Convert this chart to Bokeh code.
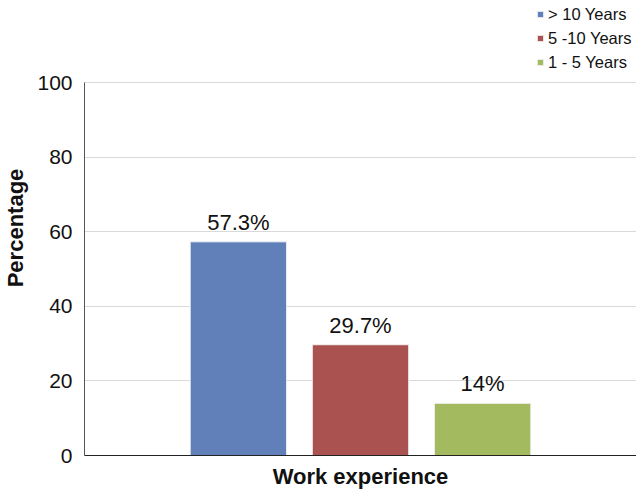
from bokeh.plotting import figure
from bokeh.models import ColumnDataSource, FactorRange, Range1d, LabelSet, Legend, LegendItem, FixedTicker
from bokeh.core.properties import value
from bokeh.embed import file_html
from bokeh.resources import INLINE

categories = ["> 10 Years", "5 -10 Years", "1 - 5 Years"]
values = [57.3, 29.7, 14.0]
bar_labels = ["57.3%", "29.7%", "14%"]
colors = ["#6180BA", "#AA5250", "#A3BB5E"]
y_ticks = [0, 20, 40, 60, 80, 100]
y_max = 100

FONT = "Liberation Sans"

src = ColumnDataSource(dict(cat=categories, val=values, lab=bar_labels, col=colors))

p = figure(width=636, height=491, output_backend="svg", toolbar_location=None,
           x_range=FactorRange(factors=categories, range_padding=0.507),
           y_range=Range1d(0, 122.0),
           min_border_left=83, min_border_right=0, min_border_top=0, min_border_bottom=36)
p.outline_line_color = None

r = p.vbar(x="cat", top="val", width=0.79, fill_color="col", line_color="#F4F4F4",
           line_width=1, source=src)

labels = LabelSet(x="cat", y="val", text="lab", source=src, y_offset=7,
                  text_align="center", text_baseline="bottom",
                  text_font=value(FONT), text_font_size="22px", text_color="#111111")
p.add_layout(labels)

# axes
p.yaxis.ticker = y_ticks
p.yaxis.bounds = (0, y_max)
p.yaxis.axis_label = "Percentage"
p.yaxis.axis_label_text_font = FONT
p.yaxis.axis_label_text_font_style = "bold"
p.yaxis.axis_label_text_font_size = "22px"
p.yaxis.axis_label_text_color = "#111111"
p.yaxis.axis_label_standoff = 6
p.yaxis.major_label_text_font = FONT
p.yaxis.major_label_text_font_size = "21px"
p.yaxis.major_label_text_color = "#111111"
p.yaxis.major_label_standoff = 12
p.yaxis.major_tick_line_color = None
p.yaxis.minor_tick_line_color = None
p.yaxis.major_tick_out = 0
p.yaxis.axis_line_color = "#555555"

p.xaxis.ticker = FixedTicker(ticks=[])
p.xaxis.axis_label = "Work experience"
p.xaxis.axis_label_text_font = FONT
p.xaxis.axis_label_text_font_style = "bold"
p.xaxis.axis_label_text_font_size = "22px"
p.xaxis.axis_label_text_color = "#111111"
p.xaxis.axis_label_standoff = 8
p.xaxis.major_label_standoff = 0
p.xaxis.major_tick_line_color = None
p.xaxis.major_tick_out = 0
p.xaxis.axis_line_color = "#222222"

p.xgrid.grid_line_color = None
p.ygrid.grid_line_color = "#D9D9D9"
p.ygrid.grid_line_width = 1

items = [LegendItem(label=c, renderers=[r], index=i) for i, c in enumerate(categories)]
legend = Legend(items=items, location=(452, 383), orientation="vertical",
                label_text_font=FONT, label_text_font_size="16.5px", label_text_color="#111111",
                glyph_width=8, glyph_height=8, label_standoff=4, label_height=20,
                spacing=4, padding=0, margin=0,
                border_line_color=None, background_fill_alpha=0)
p.add_layout(legend)

open("out.html", "w").write(file_html(p, INLINE))
